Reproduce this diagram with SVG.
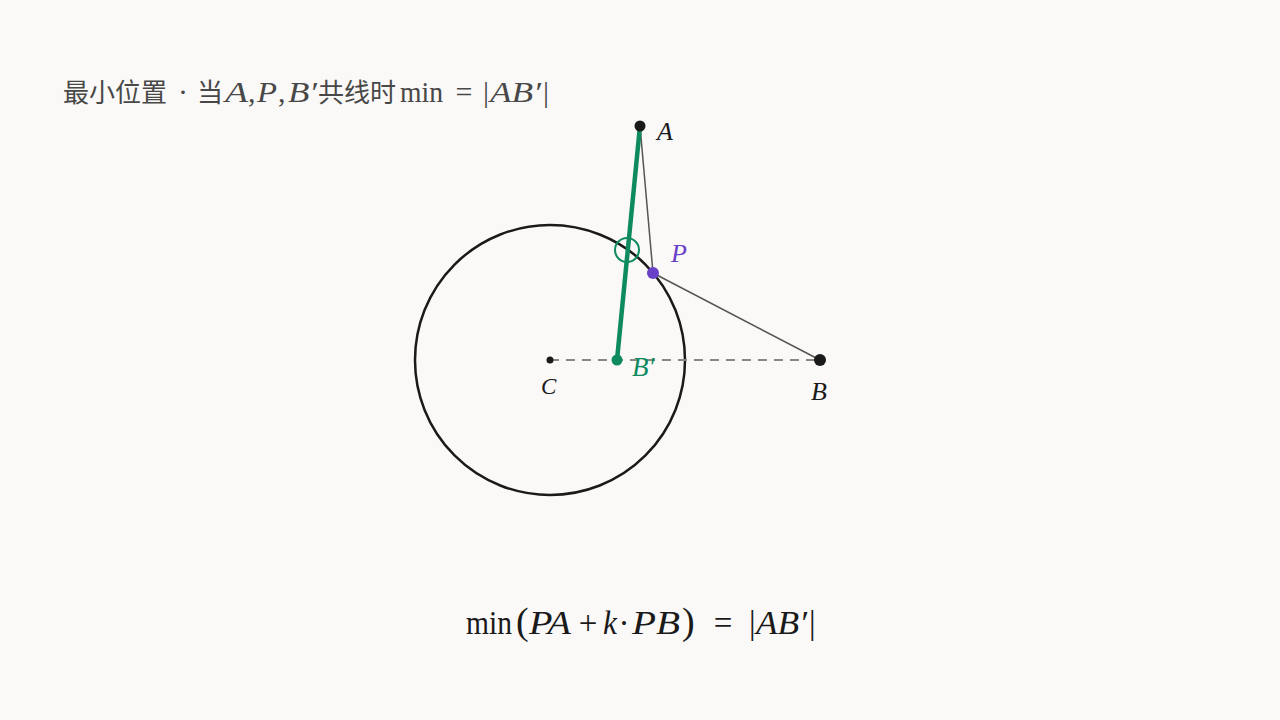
<svg xmlns="http://www.w3.org/2000/svg" width="1280" height="720" viewBox="0 0 1280 720">
<style>
.m{font-family:"Liberation Serif","DejaVu Serif",serif}
.i{font-style:italic}
.cjk{font-family:"Noto Sans CJK SC","Noto Sans",sans-serif;font-size:26px}
.t{font-size:30px}
.f{font-size:33px}
.thin{stroke:#555;stroke-width:1.5;fill:none}
</style>
<rect width="1280" height="720" fill="#faf9f7"/>
<g id="title" fill="#484848">
<text x="63" y="102" class="cjk">最小位置</text>
<text x="183" y="102" class="m t" text-anchor="middle">·</text>
<text x="197" y="102" class="cjk">当</text>
<text x="225" y="102" class="m t i" textLength="23" lengthAdjust="spacingAndGlyphs">A</text>
<text x="248" y="102" class="m t">,</text>
<text x="257" y="102" class="m t i" textLength="20" lengthAdjust="spacingAndGlyphs">P</text>
<text x="278" y="102" class="m t">,</text>
<text x="288" y="102" class="m t i" textLength="29" lengthAdjust="spacingAndGlyphs">B′</text>
<text x="318" y="102" class="cjk">共线时</text>
<text x="400" y="102" class="m t" textLength="43" lengthAdjust="spacingAndGlyphs">min</text>
<text x="464" y="102" class="m t" text-anchor="middle">=</text>
<text x="483" y="102" class="m t">|</text>
<text x="490" y="102" class="m t i" textLength="51" lengthAdjust="spacingAndGlyphs">AB′</text>
<text x="543" y="102" class="m t">|</text>
</g>
<g id="circle"><circle cx="550" cy="360" r="135" fill="none" stroke="#1a1a1a" stroke-width="2.5"/></g>
<g id="connectors">
<line x1="550" y1="360" x2="820" y2="360" stroke="#888" stroke-width="1.8" stroke-dasharray="9,7"/>
<line class="thin" x1="640" y1="126" x2="653" y2="273"/>
<line class="thin" x1="653" y1="273" x2="820" y2="360"/>
<line x1="640" y1="126" x2="617" y2="360" stroke="#0e8a5f" stroke-width="4.5"/>
<circle cx="627" cy="250" r="12" fill="none" stroke="#0e8a5f" stroke-width="2"/>
</g>
<g id="node-A"><circle cx="640" cy="126" r="5.5" fill="#1a1a1a"/><text x="657" y="140" class="m i" font-size="26" fill="#1a1a1a">A</text></g>
<g id="node-P"><circle cx="653" cy="273" r="6" fill="#6a3fc8"/><text x="671" y="262" class="m i" font-size="26" fill="#6a3fc8">P</text></g>
<g id="node-C"><circle cx="550" cy="360" r="3.5" fill="#1a1a1a"/><text x="541" y="394" class="m i" font-size="23" fill="#1a1a1a">C</text></g>
<g id="node-Bp"><circle cx="617" cy="360" r="5.5" fill="#0e8a5f"/><text x="632" y="376" class="m i" font-size="27" fill="#0e8a5f">B′</text></g>
<g id="node-B"><circle cx="820" cy="360" r="6" fill="#1a1a1a"/><text x="811" y="400" class="m i" font-size="26" fill="#1a1a1a">B</text></g>
<g id="formula" fill="#1a1a1a">
<text x="466" y="634" class="m f" textLength="46" lengthAdjust="spacingAndGlyphs">min</text>
<text x="516" y="634" class="m" font-size="38">(</text>
<text x="529" y="634" class="m f i" textLength="42" lengthAdjust="spacingAndGlyphs">PA</text>
<text x="588" y="634" class="m f" text-anchor="middle">+</text>
<text x="603" y="634" class="m f i" textLength="14" lengthAdjust="spacingAndGlyphs">k</text>
<text x="624" y="634" class="m f" text-anchor="middle">·</text>
<text x="632" y="634" class="m f i" textLength="48" lengthAdjust="spacingAndGlyphs">PB</text>
<text x="682" y="634" class="m" font-size="38">)</text>
<text x="723" y="634" class="m f" text-anchor="middle">=</text>
<text x="749" y="634" class="m f">|</text>
<text x="756" y="634" class="m f i" textLength="51" lengthAdjust="spacingAndGlyphs">AB′</text>
<text x="809" y="634" class="m f">|</text>
</g>
</svg>
